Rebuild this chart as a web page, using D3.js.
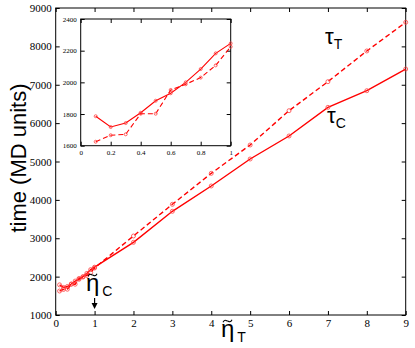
<!DOCTYPE html>
<meta charset="utf-8">
<style>
body { margin: 0; background: #fff; }
.frame { fill: none; stroke: #000; stroke-width: 1px; }
.sym { font-family: "Liberation Sans", sans-serif; fill: #000; }
</style>
<svg id="chart" width="415" height="348"></svg>
<script src="https://cdn.jsdelivr.net/npm/d3@7"></script>
<script>

// eta_T values (main plot)
var etaMain = [0.1, 0.2, 0.3, 0.4, 0.5, 0.6, 0.7, 0.8, 0.9, 1, 2, 3, 4, 5, 6, 7, 8, 9];
// tau_C (solid) and tau_T (dashed)
var tauC = [1786, 1718, 1743, 1808, 1884, 1931, 2000, 2084, 2183, 2246, 2894, 3702, 4362, 5065, 5665, 6412, 6845, 7410];
var tauT = [1625, 1666, 1672, 1802, 1802, 1952, 1988, 2030, 2107, 2225, 3059, 3884, 4692, 5430, 6324, 7080, 7880, 8627];

var mainXTicks = [0, 1, 2, 3, 4, 5, 6, 7, 8, 9];
var mainYTicks = [1000, 2000, 3000, 4000, 5000, 6000, 7000, 8000, 9000];
var insetXTicks = [0, 0.2, 0.4, 0.6, 0.8, 1];
var insetYTicks = [1600, 1800, 2000, 2200, 2400];

var svg = d3.select("#chart");

function series(xs, ys, x0, x1) {
  var out = [];
  for (var i = 0; i < xs.length; i++) {
    if (xs[i] >= x0 && xs[i] <= x1) out.push([xs[i], ys[i]]);
  }
  return out;
}

function panel(g, x, y, xTicks, yTicks, xFmt, xMax, r, sw, fs) {
  var w = x.range()[1] - x.range()[0], h = y.range()[0] - y.range()[1];
  g.append("rect").attr("class", "frame")
    .attr("x", x.range()[0]).attr("y", y.range()[1])
    .attr("width", w).attr("height", h);

  g.append("g").attr("transform", "translate(0," + y.range()[0] + ")")
    .call(d3.axisBottom(x).tickValues(xTicks).tickFormat(xFmt).tickSizeInner(-4).tickSizeOuter(0).tickPadding(4));
  g.append("g").attr("transform", "translate(" + x.range()[0] + ",0)")
    .call(d3.axisLeft(y).tickValues(yTicks).tickFormat(d3.format("d")).tickSizeInner(-4).tickSizeOuter(0).tickPadding(4));
  g.append("g").attr("transform", "translate(0," + y.range()[1] + ")")
    .call(d3.axisTop(x).tickValues(xTicks).tickSizeInner(-4).tickSizeOuter(0).tickFormat(""));
  g.append("g").attr("transform", "translate(" + x.range()[1] + ",0)")
    .call(d3.axisRight(y).tickValues(yTicks).tickSizeInner(-4).tickSizeOuter(0).tickFormat(""));
  g.selectAll(".domain").remove();
  g.selectAll(".tick text")
    .style("font-family", "'Liberation Serif', serif")
    .style("font-size", fs + "px");

  var line = d3.line().x(function(d) { return x(d[0]); }).y(function(d) { return y(d[1]); });
  var sets = [
    { data: series(etaMain, tauC, 0, xMax), dash: null },
    { data: series(etaMain, tauT, 0, xMax), dash: "5,3" }
  ];
  sets.forEach(function(s) {
    g.append("path").datum(s.data)
      .attr("d", line)
      .attr("fill", "none")
      .attr("stroke", "#ff0000")
      .attr("stroke-width", sw)
      .attr("stroke-dasharray", s.dash);
    g.selectAll(null).data(s.data).enter().append("circle")
      .attr("cx", function(d) { return x(d[0]); })
      .attr("cy", function(d) { return y(d[1]); })
      .attr("r", r)
      .attr("fill", "none")
      .attr("stroke", "#ff4040")
      .attr("stroke-width", 0.8);
  });
}

// main plot
var x = d3.scaleLinear().domain([0, 9]).range([55.7, 405.7]);
var y = d3.scaleLinear().domain([1000, 9000]).range([315, 8]);
panel(svg.append("g"), x, y, mainXTicks, mainYTicks, d3.format("d"), 9, 2, 1.4, 11);

// inset
svg.append("rect").attr("x", 80.7).attr("y", 19).attr("width", 150).attr("height", 126.7).attr("fill", "#fff");
var xi = d3.scaleLinear().domain([0, 1]).range([80.7, 230.7]);
var yi = d3.scaleLinear().domain([1600, 2400]).range([145.7, 19]);
panel(svg.append("g"), xi, yi, insetXTicks, insetYTicks,
  function(d) { return d === 0 || d === 1 ? d : d3.format(".1f")(d); }, 1, 1.5, 1.1, 7);

// y label
svg.append("text").attr("class", "sym")
  .attr("transform", "translate(26,158) rotate(-90)")
  .attr("text-anchor", "middle")
  .style("font-size", "22px")
  .text("time (MD units)");

// tau / eta labels
function sub(xp, yp, big, small, tilde) {
  var t = svg.append("text").attr("class", "sym").attr("x", xp).attr("y", yp)
    .style("font-size", tilde ? "24px" : "22px");
  t.append("tspan").text(big);
  t.append("tspan").attr("dx", tilde ? 3 : 0).attr("dy", 5).style("font-size", "14px").text(small);
  if (tilde) {
    var cx = xp + 6.5, cy = yp - 16;
    svg.append("path")
      .attr("d", "M" + (cx - 4.5) + "," + (cy + 1.2) +
                 "C" + (cx - 2.5) + "," + (cy - 2.8) + " " + (cx - 0.5) + "," + (cy + 0.5) + " " + cx + "," + cy +
                 "S" + (cx + 2.5) + "," + (cy + 2.8) + " " + (cx + 4.5) + "," + (cy - 1.2))
      .attr("fill", "none").attr("stroke", "#000").attr("stroke-width", 1.1);
  }
}
sub(325, 44, "τ", "T");
sub(327, 123, "τ", "C");
sub(221, 337, "η", "T", true);
sub(86, 291, "η", "C", true);

// arrow at eta_C
svg.append("line").attr("x1", x(1)).attr("x2", x(1)).attr("y1", 298).attr("y2", 305)
  .attr("stroke", "#000").attr("stroke-width", 1.2);
svg.append("path")
  .attr("d", "M" + (x(1) - 3) + ",303L" + (x(1) + 3) + ",303L" + x(1) + ",309Z")
  .attr("fill", "#000");

</script>
